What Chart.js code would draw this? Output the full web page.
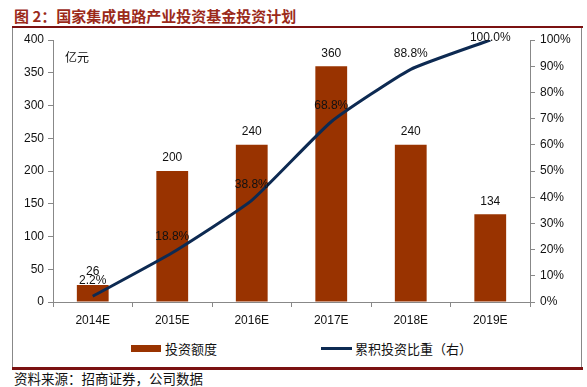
<!DOCTYPE html>
<html>
<head>
<meta charset="utf-8">
<script src="https://cdn.jsdelivr.net/npm/chart.js"></script>
<style>
  body { margin: 0; width: 587px; height: 387px; position: relative; background: #fff; overflow: hidden; }
  .title { position: absolute; left: 14px; top: 6px; font: bold 15px "Noto Sans CJK SC", sans-serif; color: #9b2a1a; line-height: 20px; white-space: nowrap; }
  .topline { position: absolute; left: 12px; top: 26px; width: 571px; height: 2px; background: #7b1111; }
  .frame { position: absolute; left: 12px; top: 28px; width: 568px; height: 339px; border-left: 1px solid #888; border-right: 1px solid #888; }
  .bottomline { position: absolute; left: 12px; top: 367px; width: 571px; height: 3px; background: #7b1111; }
  .source { position: absolute; left: 14px; top: 370px; font: 13.5px "Noto Sans CJK SC", sans-serif; color: #111; line-height: 17px; white-space: nowrap; }
  .legend { position: absolute; top: 338px; font: 13px "Noto Sans CJK SC", sans-serif; color: #111; line-height: 17px; white-space: nowrap; }
  .legend span { display: inline-block; vertical-align: middle; }
  canvas { position: absolute; left: 0; top: 0; }
</style>
</head>
<body>
<div class="title">图 2：国家集成电路产业投资基金投资计划</div>
<div class="topline"></div>
<div class="frame"></div>
<div class="bottomline"></div>
<div class="source">资料来源：招商证券，公司数据</div>
<div class="legend" style="left:131px"><span style="width:30px;height:7px;background:#993300;margin-right:4px"></span><span>投资额度</span></div>
<div class="legend" style="left:321px"><span style="width:31px;height:3px;background:#0d2a52;margin-right:3px"></span><span>累积投资比重（右）</span></div>
<canvas id="c" width="587" height="387"></canvas>
<script>
const years = ['2014E', '2015E', '2016E', '2017E', '2018E', '2019E'];
const investment = [26, 200, 240, 360, 240, 134];
const cumulativeShare = [2.2, 18.8, 38.8, 68.8, 88.8, 100.0];
const leftTicks = [0, 50, 100, 150, 200, 250, 300, 350, 400];
const rightTicks = [0, 10, 20, 30, 40, 50, 60, 70, 80, 90, 100];

const tickFont = { family: 'Liberation Sans, Arial, sans-serif', size: 12 };

// value labels and unit text, drawn on the canvas
const labelPlugin = {
  id: 'labels',
  afterDatasetsDraw(chart) {
    const ctx = chart.ctx;
    ctx.save();
    ctx.fillStyle = '#111';
    ctx.font = '12px Liberation Sans, Arial, sans-serif';
    ctx.textAlign = 'center';
    ctx.textBaseline = 'middle';
    chart.getDatasetMeta(1).data.forEach((bar, i) => {
      ctx.fillText(String(investment[i]), bar.x, bar.y - 13);
    });
    chart.getDatasetMeta(0).data.forEach((pt, i) => {
      const y = Math.max(pt.y - 16, chart.chartArea.top - 2);
      ctx.fillText(cumulativeShare[i].toFixed(1) + '%', pt.x, y);
    });
    ctx.font = '12px "Noto Sans CJK SC", sans-serif';
    ctx.textAlign = 'left';
    ctx.fillText('亿元', 65, 57);
    ctx.restore();
  }
};

new Chart(document.getElementById('c').getContext('2d'), {
  data: {
    labels: years,
    datasets: [
      {
        type: 'line',
        label: '累积投资比重（右）',
        data: cumulativeShare,
        yAxisID: 'y1',
        borderColor: '#0d2a52',
        borderWidth: 3,
        pointRadius: 0,
        tension: 0.15,
        fill: false,
        order: 0
      },
      {
        type: 'bar',
        label: '投资额度',
        data: investment,
        yAxisID: 'y',
        backgroundColor: '#993300',
        barPercentage: 0.4,
        categoryPercentage: 1,
        order: 1
      }
    ]
  },
  options: {
    responsive: false,
    animation: false,
    layout: { padding: { top: 40, bottom: 55, left: 0, right: 0 } },
    plugins: { legend: { display: false }, tooltip: { enabled: false } },
    scales: {
      x: {
        grid: { offset: true, drawOnChartArea: false, tickLength: 5, color: '#888' },
        border: { color: '#888' },
        ticks: { font: tickFont, color: '#111', padding: 6 },
        afterFit(s) { s.height = 30; }
      },
      y: {
        position: 'left',
        min: 0, max: 400,
        afterBuildTicks(s) { s.ticks = leftTicks.map(v => ({ value: v })); },
        grid: { drawOnChartArea: false, tickLength: 5, color: '#888' },
        border: { color: '#888' },
        ticks: { font: tickFont, color: '#111', padding: 4 },
        afterFit(s) { s.width = 53; }
      },
      y1: {
        position: 'right',
        min: 0, max: 100,
        afterBuildTicks(s) { s.ticks = rightTicks.map(v => ({ value: v })); },
        grid: { drawOnChartArea: false, tickLength: 5, color: '#888' },
        border: { color: '#888' },
        ticks: { font: tickFont, color: '#111', padding: 5, callback: v => v + '%' },
        afterFit(s) { s.width = 57; }
      }
    }
  },
  plugins: [labelPlugin]
});
</script>
</body>
</html>
